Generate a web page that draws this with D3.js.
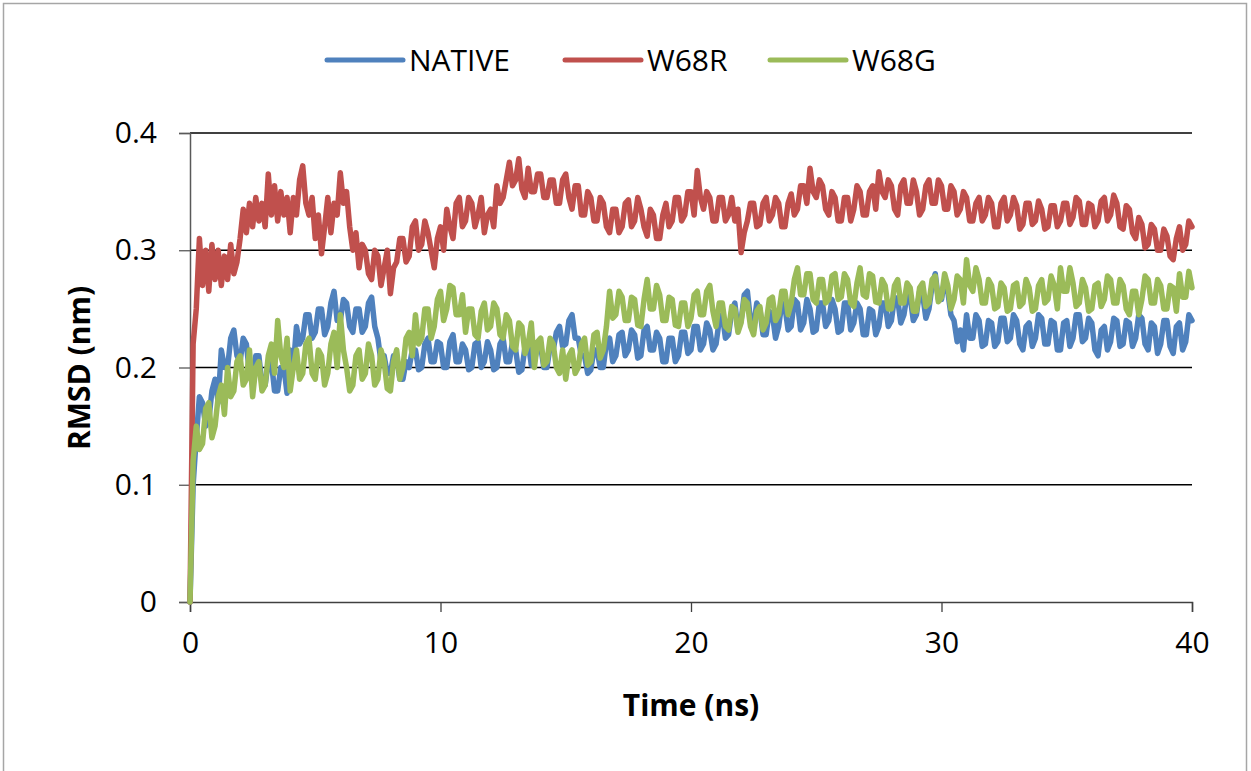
<!DOCTYPE html>
<html>
<head>
<meta charset="utf-8">
<script src="https://cdn.jsdelivr.net/npm/d3@7"></script>
<style>
  body { margin: 0; background: #fff; }
  svg { display: block; font-family: "Open Sans", sans-serif; }
</style>
</head>
<body>
<svg id="chart" width="1251" height="771"></svg>
<script>
// time step of the readings (ns), one row below = 1 ns
const step = 0.125
const seriesNames = ["NATIVE", "W68R", "W68G"]
const colors = ["#4F81BD", "#C0504D", "#9BBB59"]
const xTicks = [0, 10, 20, 30, 40]
const yTicks = [0, 0.1, 0.2, 0.3, 0.4]

const native = [
  0, 0.1, 0.14, 0.175, 0.17, 0.15, 0.155, 0.18,
  0.19, 0.17, 0.215, 0.2, 0.2, 0.225, 0.232, 0.21,
  0.205, 0.225, 0.22, 0.195, 0.19, 0.21, 0.21, 0.185,
  0.185, 0.205, 0.205, 0.18, 0.18, 0.2, 0.2, 0.178,
  0.215, 0.2, 0.235, 0.22, 0.225, 0.245, 0.245, 0.225,
  0.23, 0.25, 0.25, 0.228, 0.235, 0.255, 0.265, 0.24,
  0.24, 0.258, 0.255, 0.235, 0.23, 0.25, 0.25, 0.23,
  0.235, 0.255, 0.26, 0.235, 0.225, 0.205, 0.21, 0.195,
  0.195, 0.21, 0.21, 0.19, 0.19, 0.205, 0.2, 0.215,
  0.215, 0.198, 0.2, 0.22, 0.225, 0.205, 0.205, 0.222,
  0.22, 0.2, 0.2, 0.222, 0.228, 0.205, 0.205, 0.22,
  0.215, 0.198, 0.2, 0.22, 0.222, 0.2, 0.205, 0.222,
  0.215, 0.198, 0.2, 0.22, 0.225, 0.205, 0.205, 0.222,
  0.215, 0.196, 0.198, 0.218, 0.222, 0.202, 0.205, 0.22,
  0.218, 0.2, 0.2, 0.218, 0.215, 0.23, 0.235, 0.218,
  0.22, 0.24, 0.245, 0.225, 0.225, 0.21, 0.21, 0.195,
  0.198, 0.215, 0.215, 0.2, 0.2, 0.222, 0.225, 0.205,
  0.21, 0.228, 0.23, 0.21, 0.215, 0.232, 0.228, 0.208,
  0.21, 0.232, 0.235, 0.215, 0.215, 0.23, 0.225, 0.205,
  0.205, 0.225, 0.225, 0.205, 0.21, 0.23, 0.23, 0.212,
  0.215, 0.235, 0.235, 0.215, 0.22, 0.238, 0.232, 0.215,
  0.22, 0.24, 0.245, 0.225, 0.228, 0.248, 0.255, 0.232,
  0.24, 0.262, 0.265, 0.24, 0.235, 0.255, 0.25, 0.228,
  0.228, 0.248, 0.245, 0.225, 0.235, 0.255, 0.252, 0.232,
  0.235, 0.258, 0.255, 0.232, 0.238, 0.258, 0.25, 0.23,
  0.232, 0.255, 0.255, 0.235, 0.24, 0.258, 0.25, 0.23,
  0.232, 0.255, 0.255, 0.232, 0.238, 0.255, 0.25, 0.228,
  0.228, 0.25, 0.248, 0.228, 0.235, 0.255, 0.255, 0.235,
  0.24, 0.26, 0.258, 0.238, 0.245, 0.262, 0.26, 0.24,
  0.245, 0.265, 0.262, 0.242, 0.25, 0.27, 0.28, 0.258,
  0.258, 0.275, 0.265, 0.245, 0.24, 0.222, 0.232, 0.215,
  0.245, 0.225, 0.225, 0.245, 0.24, 0.218, 0.22, 0.24,
  0.238, 0.218, 0.222, 0.242, 0.242, 0.222, 0.225, 0.245,
  0.24, 0.22, 0.215, 0.235, 0.238, 0.218, 0.225, 0.245,
  0.242, 0.22, 0.22, 0.24, 0.238, 0.215, 0.215, 0.238,
  0.24, 0.218, 0.225, 0.245, 0.245, 0.222, 0.225, 0.242,
  0.238, 0.215, 0.21, 0.232, 0.235, 0.215, 0.222, 0.242,
  0.24, 0.218, 0.22, 0.24, 0.238, 0.218, 0.225, 0.245,
  0.242, 0.22, 0.215, 0.238, 0.235, 0.212, 0.22, 0.24,
  0.24, 0.218, 0.212, 0.235, 0.238, 0.215, 0.222, 0.245,
  0.24
]

const w68r = [
  0, 0.22, 0.25, 0.31, 0.27, 0.30, 0.265, 0.305,
  0.275, 0.30, 0.27, 0.295, 0.275, 0.305, 0.28, 0.29,
  0.31, 0.335, 0.315, 0.34, 0.32, 0.345, 0.325, 0.34,
  0.32, 0.365, 0.33, 0.355, 0.325, 0.35, 0.33, 0.345,
  0.315, 0.345, 0.33, 0.36, 0.372, 0.34, 0.33, 0.345,
  0.31, 0.33, 0.297, 0.32, 0.345, 0.315, 0.34, 0.33,
  0.366, 0.34, 0.35, 0.32, 0.30, 0.315, 0.285, 0.305,
  0.30, 0.28, 0.275, 0.30, 0.295, 0.27, 0.285, 0.30,
  0.263, 0.285, 0.29, 0.31, 0.31, 0.29, 0.295, 0.32,
  0.325, 0.30, 0.305, 0.325, 0.315, 0.30, 0.285, 0.31,
  0.32, 0.30, 0.335, 0.32, 0.31, 0.34, 0.345, 0.32,
  0.325, 0.345, 0.34, 0.32, 0.33, 0.345, 0.315, 0.33,
  0.335, 0.32, 0.355, 0.34, 0.345, 0.36, 0.375, 0.355,
  0.36, 0.378, 0.352, 0.345, 0.37, 0.35, 0.35, 0.365,
  0.365, 0.345, 0.345, 0.36, 0.36, 0.34, 0.34, 0.36,
  0.365, 0.345, 0.335, 0.355, 0.355, 0.33, 0.33, 0.35,
  0.345, 0.325, 0.325, 0.345, 0.34, 0.32, 0.315, 0.335,
  0.335, 0.315, 0.32, 0.34, 0.343, 0.32, 0.325, 0.345,
  0.335, 0.32, 0.312, 0.335, 0.33, 0.31, 0.31, 0.33,
  0.34, 0.32, 0.325, 0.345, 0.345, 0.325, 0.33, 0.35,
  0.35, 0.33, 0.368, 0.345, 0.335, 0.35, 0.345, 0.325,
  0.325, 0.345, 0.345, 0.325, 0.33, 0.345, 0.325, 0.335,
  0.298, 0.315, 0.325, 0.34, 0.34, 0.32, 0.322, 0.34,
  0.345, 0.325, 0.33, 0.345, 0.34, 0.32, 0.32, 0.34,
  0.348, 0.33, 0.335, 0.355, 0.355, 0.34, 0.37, 0.35,
  0.345, 0.36, 0.355, 0.335, 0.33, 0.35, 0.345, 0.325,
  0.325, 0.345, 0.345, 0.325, 0.335, 0.355, 0.35, 0.33,
  0.33, 0.35, 0.355, 0.335, 0.367, 0.35, 0.345, 0.36,
  0.355, 0.335, 0.33, 0.355, 0.36, 0.34, 0.34, 0.36,
  0.35, 0.33, 0.335, 0.355, 0.36, 0.34, 0.34, 0.36,
  0.355, 0.335, 0.335, 0.355, 0.35, 0.33, 0.335, 0.35,
  0.345, 0.325, 0.325, 0.34, 0.345, 0.325, 0.33, 0.345,
  0.34, 0.32, 0.32, 0.34, 0.345, 0.325, 0.33, 0.345,
  0.338, 0.318, 0.322, 0.34, 0.34, 0.322, 0.325, 0.342,
  0.335, 0.318, 0.32, 0.338, 0.338, 0.32, 0.325, 0.34,
  0.34, 0.322, 0.328, 0.345, 0.342, 0.322, 0.322, 0.34,
  0.338, 0.32, 0.325, 0.342, 0.345, 0.325, 0.33, 0.347,
  0.34, 0.32, 0.318, 0.338, 0.335, 0.315, 0.31, 0.328,
  0.322, 0.302, 0.305, 0.322, 0.318, 0.3, 0.3, 0.318,
  0.312, 0.295, 0.292, 0.31, 0.32, 0.3, 0.305, 0.325,
  0.32
]

const w68g = [
  0, 0.12, 0.15, 0.13, 0.135, 0.165, 0.17, 0.14,
  0.15, 0.175, 0.185, 0.16, 0.2, 0.175, 0.18, 0.205,
  0.21, 0.185, 0.19, 0.215, 0.175, 0.2, 0.205, 0.18,
  0.185, 0.21, 0.22, 0.195, 0.24, 0.21, 0.2, 0.225,
  0.18, 0.2, 0.215, 0.19, 0.195, 0.22, 0.225, 0.195,
  0.19, 0.215, 0.21, 0.185, 0.195, 0.22, 0.23, 0.2,
  0.245, 0.215, 0.2, 0.18, 0.185, 0.21, 0.215, 0.19,
  0.195, 0.22, 0.21, 0.185, 0.19, 0.215, 0.205, 0.182,
  0.18, 0.205, 0.215, 0.19, 0.2, 0.225, 0.23, 0.21,
  0.245, 0.22, 0.225, 0.25, 0.25, 0.225, 0.235, 0.258,
  0.265, 0.24, 0.25, 0.27, 0.268, 0.245, 0.245, 0.262,
  0.23, 0.25, 0.25, 0.228, 0.225, 0.248, 0.255, 0.232,
  0.235, 0.255, 0.25, 0.228, 0.225, 0.245, 0.24, 0.218,
  0.215, 0.238, 0.235, 0.212, 0.22, 0.238, 0.2, 0.222,
  0.225, 0.202, 0.205, 0.225, 0.22, 0.2, 0.195, 0.215,
  0.19, 0.21, 0.215, 0.195, 0.2, 0.22, 0.225, 0.202,
  0.205, 0.228, 0.23, 0.208, 0.215, 0.235, 0.265, 0.242,
  0.245, 0.265, 0.26, 0.24, 0.24, 0.26, 0.258, 0.236,
  0.235, 0.258, 0.275, 0.25, 0.25, 0.27, 0.262, 0.24,
  0.24, 0.26, 0.258, 0.236, 0.235, 0.255, 0.255, 0.235,
  0.242, 0.262, 0.265, 0.245, 0.245, 0.265, 0.27, 0.248,
  0.235, 0.255, 0.255, 0.235, 0.232, 0.252, 0.25, 0.23,
  0.238, 0.258, 0.255, 0.235, 0.228, 0.248, 0.252, 0.232,
  0.238, 0.258, 0.26, 0.24, 0.245, 0.265, 0.265, 0.245,
  0.255, 0.275, 0.285, 0.262, 0.262, 0.28, 0.28, 0.258,
  0.255, 0.275, 0.275, 0.255, 0.258, 0.278, 0.28, 0.258,
  0.26, 0.28, 0.275, 0.255, 0.252, 0.272, 0.285, 0.262,
  0.26, 0.28, 0.278, 0.256, 0.255, 0.275, 0.27, 0.25,
  0.25, 0.27, 0.275, 0.255, 0.255, 0.272, 0.268, 0.248,
  0.248, 0.268, 0.272, 0.252, 0.255, 0.275, 0.278, 0.256,
  0.26, 0.28, 0.27, 0.25, 0.258, 0.278, 0.275, 0.255,
  0.292, 0.27, 0.265, 0.285, 0.275, 0.255, 0.255, 0.275,
  0.27, 0.25, 0.252, 0.272, 0.268, 0.248, 0.25, 0.27,
  0.272, 0.252, 0.255, 0.275, 0.268, 0.248, 0.25, 0.27,
  0.275, 0.255, 0.258, 0.278, 0.27, 0.25, 0.285, 0.265,
  0.265, 0.285, 0.272, 0.252, 0.255, 0.275, 0.268, 0.248,
  0.25, 0.27, 0.272, 0.252, 0.258, 0.278, 0.275, 0.255,
  0.255, 0.275, 0.27, 0.25, 0.245, 0.265, 0.265, 0.245,
  0.258, 0.278, 0.275, 0.255, 0.255, 0.275, 0.27, 0.25,
  0.25, 0.27, 0.268, 0.248, 0.28, 0.26, 0.26, 0.282,
  0.268
]

const allSeries = [native, w68r, w68g]

const svg = d3.select("#chart")
const margin = { top: 133, right: 59, bottom: 169, left: 190 }
const width = 1251 - margin.left - margin.right
const height = 771 - margin.top - margin.bottom

// chart frame
svg.append("rect")
  .attr("x", 3.5).attr("y", 3.5)
  .attr("width", 1243).attr("height", 800)
  .attr("fill", "none")
  .attr("stroke", "#a6a6a6")
  .attr("stroke-width", 1.5)

const g = svg.append("g").attr("transform", `translate(${margin.left},${margin.top})`)

const x = d3.scaleLinear().domain([0, 40]).range([0, width])
const y = d3.scaleLinear().domain([0, 0.4]).range([height, 0])

// gridlines
g.append("g")
  .selectAll("line")
  .data(yTicks.slice(1))
  .join("line")
  .attr("x1", 0).attr("x2", width)
  .attr("y1", d => y(d)).attr("y2", d => y(d))
  .attr("stroke", "#000")
  .attr("stroke-width", 1.3)

const yAxis = g.append("g")
  .call(d3.axisLeft(y).tickValues(yTicks).tickFormat(d => d === 0 ? "0" : d3.format(".1f")(d)).tickSize(11).tickPadding(22))
yAxis.select(".domain").attr("stroke", "#595959").attr("stroke-width", 1.5)
yAxis.selectAll(".tick line").attr("stroke", "#595959").attr("stroke-width", 1.3)
yAxis.selectAll("text").attr("font-size", 30).attr("font-family", "Open Sans").attr("fill", "#000")

const xAxis = g.append("g")
  .attr("transform", `translate(0,${height})`)
  .call(d3.axisBottom(x).tickValues(xTicks).tickSize(10).tickPadding(20))
xAxis.select(".domain").attr("stroke", "#404040").attr("stroke-width", 1.5)
xAxis.selectAll(".tick line").attr("stroke", "#404040").attr("stroke-width", 1.3)
xAxis.selectAll("text").attr("font-size", 30).attr("font-family", "Open Sans").attr("fill", "#000")

// series
const line = d3.line()
  .x((d, i) => x(i * step))
  .y(d => y(d))

g.append("g")
  .selectAll("path")
  .data(allSeries)
  .join("path")
  .attr("d", line)
  .attr("fill", "none")
  .attr("stroke", (d, i) => colors[i])
  .attr("stroke-width", 5.5)
  .attr("stroke-linejoin", "round")
  .attr("stroke-linecap", "round")

// axis titles
svg.append("text")
  .attr("x", margin.left + width / 2)
  .attr("y", 716)
  .attr("text-anchor", "middle")
  .attr("font-size", 30)
  .attr("font-weight", "bold")
  .text("Time (ns)")

svg.append("text")
  .attr("transform", "translate(90,368) rotate(-90)")
  .attr("text-anchor", "middle")
  .attr("font-size", 30)
  .attr("font-weight", "bold")
  .text("RMSD (nm)")

// legend
const legendX = [327, 565, 770]
const legend = svg.append("g")
  .selectAll("g")
  .data(seriesNames)
  .join("g")
  .attr("transform", (d, i) => `translate(${legendX[i]},60)`)

legend.append("line")
  .attr("x1", 0).attr("x2", 76)
  .attr("stroke", (d, i) => colors[i])
  .attr("stroke-width", 5)
  .attr("stroke-linecap", "round")

legend.append("text")
  .attr("x", 82)
  .attr("y", 10.5)
  .attr("font-size", 30)
  .text(d => d)
</script>
</body>
</html>
